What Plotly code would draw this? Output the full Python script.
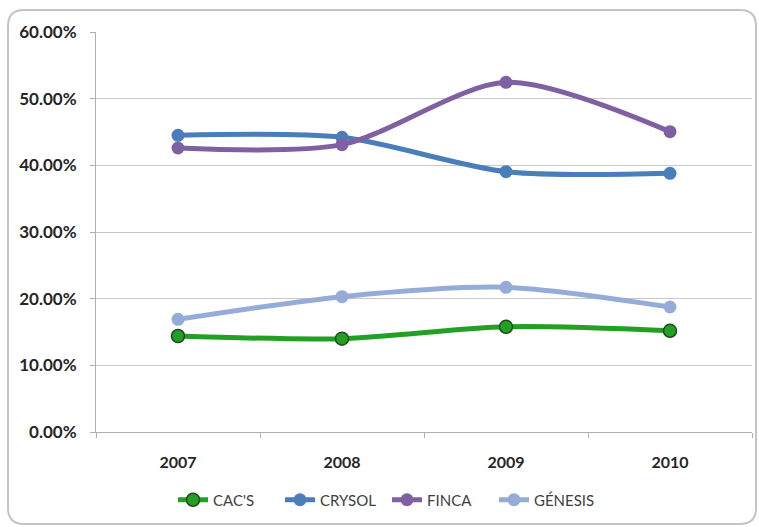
import plotly.graph_objects as go

years = ["2007", "2008", "2009", "2010"]
cacs = [0.1440, 0.1400, 0.1578, 0.1518]
crysol = [0.4450, 0.4420, 0.3905, 0.3880]
finca = [0.4260, 0.4310, 0.5245, 0.4505]
genesis = [0.1690, 0.2030, 0.2170, 0.1875]
ytick_vals = [0, 0.1, 0.2, 0.3, 0.4, 0.5, 0.6]
ytick_text = ["0.00%", "10.00%", "20.00%", "30.00%", "40.00%", "50.00%", "60.00%"]

W, H = 759, 527
L, R, T, B = 96, 7, 32, 95
pw, ph = W - L - R, H - T - B

series = [
    ("CAC'S", cacs, "#23a023", "#1d4d1d", 1.5),
    ("CRYSOL", crysol, "#4a7ebb", "#4a7ebb", 0),
    ("FINCA", finca, "#7f60a2", "#7f60a2", 0),
    ("GÉNESIS", genesis, "#95acd9", "#95acd9", 0),
]

fig = go.Figure()
for name, vals, col, lcol, lw in series:
    fig.add_trace(go.Scatter(
        x=years, y=vals, name=name, mode="lines+markers",
        line=dict(color=col, width=5, shape="spline", smoothing=0.8),
        marker=dict(size=13, color=col, line=dict(color=lcol, width=lw)),
    ))

def P(x, y):
    return f"{(x - L) / pw:.5f},{(H - B - y) / ph:.5f}"

x0, y0, x1, y1, r = 8, 10, 756, 524, 16
path = (f"M {P(x0 + r, y0)} L {P(x1 - r, y0)} Q {P(x1, y0)} {P(x1, y0 + r)} "
        f"L {P(x1, y1 - r)} Q {P(x1, y1)} {P(x1 - r, y1)} "
        f"L {P(x0 + r, y1)} Q {P(x0, y1)} {P(x0, y1 - r)} "
        f"L {P(x0, y0 + r)} Q {P(x0, y0)} {P(x0 + r, y0)} Z")

fig.update_layout(
    width=W, height=H,
    margin=dict(l=L, r=R, t=T, b=B, autoexpand=False),
    paper_bgcolor="white", plot_bgcolor="white",
    font=dict(family="Lato", color="#333333"),
    showlegend=True,
    legend=dict(orientation="h", x=(173 - L) / pw, xanchor="left",
                y=(H - B - 500) / ph, yanchor="middle",
                font=dict(size=15, color="#404040", family="Lato"),
                entrywidth=62, entrywidthmode="pixels", tracegroupgap=0),
    shapes=[dict(type="path", path=path, xref="paper", yref="paper",
                 line=dict(color="#c4c4c4", width=2), layer="below")],
    xaxis=dict(type="category", range=[-0.5, 3.5], showgrid=False,
               showline=True, linecolor="#b0b0b0", linewidth=1,
               ticks="outside", tickson="boundaries", ticklen=5, tickcolor="#b0b0b0",
               tickfont=dict(size=16, family="Lato", color="#262626", weight="bold"),
               ticklabelstandoff=16, fixedrange=True, automargin=False),
    yaxis=dict(range=[0, 0.6], tickvals=ytick_vals, ticktext=ytick_text,
               showgrid=True, gridcolor="#c8c8c8", gridwidth=1,
               showline=True, linecolor="#b0b0b0", linewidth=1,
               ticks="outside", ticklen=5, tickcolor="#b0b0b0",
               tickfont=dict(size=17, family="Lato", color="#262626", weight="bold"),
               ticklabelstandoff=10, zeroline=False, fixedrange=True, automargin=False),
)

fig.write_html("out.html", config={"displayModeBar": False},
               post_script="document.body.style.margin='0';document.body.style.overflow='hidden';")
